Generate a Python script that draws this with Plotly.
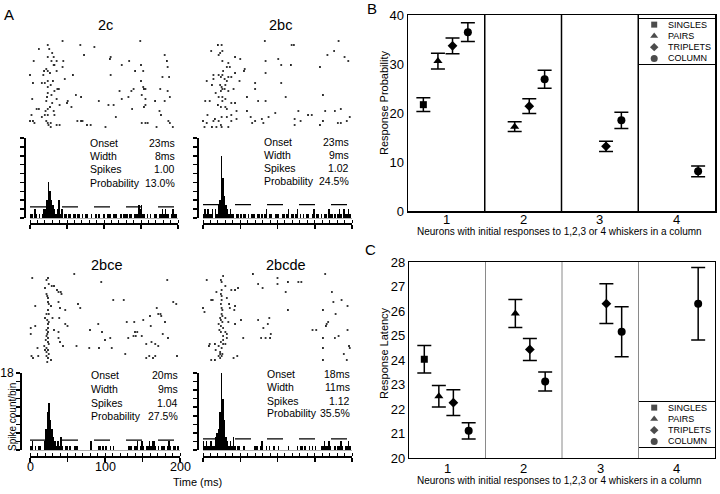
import plotly.graph_objects as go

W, H = 720, 494
FONT = "Liberation Sans, Arial, Helvetica, sans-serif"


def px(x):
    return x / W


def py(y):
    return 1 - y / H


# ---------------- DATA ----------------
PANEL_NAMES = ["2c", "2bc", "2bce", "2bcde"]
STAT_LABELS = ["Onset", "Width", "Spikes", "Probability"]
STATS_2C = ["23ms", "8ms", "1.00", "13.0%"]
STATS_2BC = ["23ms", "9ms", "1.02", "24.5%"]
STATS_2BCE = ["20ms", "9ms", "1.04", "27.5%"]
STATS_2BCDE = ["18ms", "11ms", "1.12", "35.5%"]

TIME_RANGE = [0, 200]
TIME_TICKS = [0, 50, 100, 150, 200]
TIME_LABELS = [0, 100, 200]
COUNT_TICKS = [0, 2, 4, 6, 8, 10, 12, 14, 16, 18]
BIN_MS = 2

# spike counts per 2 ms bin, 0-200 ms
HIST_2C = [1, 1, 0, 2, 1, 0, 1, 0, 1, 2,
           2, 4, 8, 6, 4, 3, 2, 1, 2, 4,
           1, 2, 0, 1, 1, 0, 1, 1, 0, 1,
           1, 0, 1, 1, 0, 1, 0, 1, 1, 0,
           0, 1, 0, 0, 1, 0, 1, 0, 0, 1,
           1, 0, 1, 1, 1, 0, 1, 1, 1, 0,
           0, 1, 0, 1, 1, 1, 0, 1, 1, 0,
           1, 1, 1, 3, 2, 3, 1, 1, 0, 1,
           0, 1, 0, 0, 1, 1, 0, 1, 1, 2,
           1, 2, 1, 1, 0, 1, 2, 1, 1, 0]
HIST_2BC = [1, 2, 1, 2, 1, 1, 2, 0, 2, 1,
            3, 4, 14, 9, 5, 3, 2, 1, 2, 1,
            1, 0, 1, 1, 0, 1, 0, 1, 1, 0,
            1, 0, 1, 1, 1, 0, 1, 1, 0, 1,
            0, 1, 2, 0, 1, 1, 0, 0, 1, 1,
            1, 0, 0, 1, 1, 0, 1, 2, 0, 1,
            1, 0, 1, 2, 0, 1, 0, 1, 0, 1,
            1, 0, 0, 1, 2, 0, 1, 1, 0, 1,
            0, 1, 1, 0, 2, 1, 1, 0, 1, 0,
            1, 2, 1, 0, 2, 1, 1, 2, 1, 0]
HIST_2BCE = [1, 2, 0, 1, 0, 1, 1, 0, 0, 2,
             5, 9, 11, 7, 5, 3, 2, 1, 2, 1,
             3, 1, 0, 1, 1, 0, 1, 0, 0, 1,
             1, 1, 0, 0, 0, 0, 0, 0, 0, 0,
             2, 0, 0, 0, 0, 1, 1, 0, 1, 0,
             1, 0, 0, 1, 0, 1, 0, 0, 0, 0,
             0, 0, 0, 0, 0, 1, 1, 1, 0, 1,
             1, 2, 0, 1, 2, 1, 0, 1, 1, 2,
             1, 2, 2, 1, 0, 1, 0, 1, 1, 1,
             0, 1, 2, 1, 0, 1, 1, 0, 1, 0]
HIST_2BCDE = [2, 1, 2, 1, 1, 2, 1, 1, 3, 4,
              5, 9, 18, 12, 7, 3, 2, 1, 2, 1,
              3, 1, 0, 1, 1, 0, 0, 1, 0, 0,
              0, 0, 0, 0, 1, 1, 1, 0, 1, 2,
              0, 0, 1, 0, 1, 0, 0, 1, 0, 0,
              1, 0, 0, 0, 0, 0, 0, 1, 0, 0,
              0, 0, 0, 1, 0, 1, 1, 0, 1, 0,
              0, 1, 0, 1, 0, 1, 0, 0, 0, 1,
              1, 2, 1, 1, 2, 1, 0, 0, 1, 0,
              1, 1, 2, 1, 0, 1, 1, 2, 1, 0]
THRESHOLDS = [2.5, 3.0, 2.3, 2.6]

# raster spikes: (time ms, trial)
RASTER_2C = [(44,3),(24,5),(12,7),(26,7),(68,5),(87,6),(149,3),(30,9),(73,10),(182,10),(5,13),(24,11),(32,11),(29,13),(36,13),(45,13),(109,11),(108,12),(134,13),(185,13),(150,15),(33,15),(32,15),(124,15),(186,16),(22,17),(24,18),(44,16),(19,18),(36,18),(142,18),(153,18),(0,20),(27,19),(18,20),(58,20),(47,22),(109,20),(179,21),(188,21),(4,24),(16,24),(20,24),(24,23),(31,23),(150,23),(28,25),(24,26),(37,27),(39,27),(33,28),(153,26),(154,27),(156,27),(176,27),(186,28),(121,28),(137,28),(140,27),(24,29),(29,30),(62,30),(69,31),(133,31),(124,32),(151,30),(189,31),(3,32),(23,31),(36,32),(51,33),(93,33),(22,33),(30,34),(50,34),(156,32),(169,33),(182,33),(27,36),(40,35),(56,36),(106,35),(113,35),(156,35),(154,36),(9,37),(12,37),(24,37),(21,38),(32,38),(138,37),(175,38),(2,40),(16,41),(20,40),(24,40),(33,40),(177,40),(116,41),(0,43),(4,43),(6,44),(22,43),(24,44),(25,45),(28,44),(64,43),(69,43),(71,43),(82,45),(77,45),(36,45),(40,45),(151,44),(156,44),(159,44),(187,43),(189,44),(102,46),(28,46),(171,46),(193,46)]
RASTER_2BC = [(20,5),(25,5),(83,3),(119,5),(122,5),(182,3),(11,8),(23,9),(26,8),(21,10),(176,8),(167,10),(190,11),(26,13),(43,11),(50,12),(101,12),(84,13),(34,14),(105,15),(118,15),(195,13),(32,16),(36,16),(56,17),(55,18),(157,16),(27,18),(14,20),(21,20),(43,19),(84,19),(26,20),(24,21),(34,21),(38,21),(5,23),(14,22),(29,22),(32,23),(49,23),(70,24),(12,25),(23,25),(25,26),(30,25),(105,24),(26,27),(29,27),(41,27),(70,27),(24,28),(17,29),(34,28),(161,30),(21,31),(26,31),(30,32),(59,31),(74,33),(84,33),(111,31),(3,33),(9,33),(26,33),(38,34),(43,34),(20,35),(24,36),(30,36),(32,37),(45,38),(59,38),(97,39),(88,41),(128,38),(141,40),(146,40),(164,38),(177,38),(185,37),(38,40),(6,40),(16,42),(25,41),(32,41),(45,42),(64,41),(79,42),(0,43),(5,44),(14,43),(21,43),(38,43),(70,43),(123,42),(131,43),(161,43),(193,43),(12,46),(18,46),(24,45),(25,46),(34,46),(66,44),(81,44),(123,45),(157,45),(181,44),(185,44),(197,41),(2,46)]
RASTER_2BCE = [(59,3),(3,5),(24,5),(95,7),(183,6),(22,6),(25,8),(29,9),(32,9),(36,11),(38,12),(41,12),(20,10),(22,13),(42,13),(24,15),(111,16),(125,16),(191,17),(195,18),(7,19),(25,18),(28,19),(38,17),(64,18),(67,20),(47,21),(24,21),(22,23),(25,23),(40,20),(169,20),(174,23),(160,24),(171,23),(175,24),(30,25),(20,25),(25,27),(39,25),(129,27),(139,27),(151,26),(161,29),(180,27),(91,28),(1,30),(7,29),(24,30),(47,28),(50,29),(32,31),(80,31),(96,32),(1,33),(24,32),(38,32),(140,32),(143,32),(131,35),(138,34),(141,34),(149,34),(177,33),(184,35),(22,34),(21,36),(24,37),(38,35),(40,37),(100,36),(107,35),(25,38),(19,39),(22,40),(44,39),(62,39),(162,37),(155,38),(167,38),(171,39),(10,40),(20,41),(24,41),(79,40),(92,40),(109,40),(127,43),(2,44),(11,44),(22,44),(24,45),(28,46),(4,45),(155,45),(159,44),(164,45),(167,44),(196,44),(23,14),(24,17),(23,26),(24,28),(22,31),(23,33),(24,35),(22,42),(25,43),(23,47)]
RASTER_2BCDE = [(27,4),(67,3),(100,5),(164,3),(5,6),(24,6),(25,7),(74,8),(80,10),(100,8),(114,7),(128,7),(132,7),(30,9),(18,12),(25,11),(38,11),(43,11),(47,10),(111,12),(173,12),(13,16),(11,16),(25,16),(32,15),(35,18),(175,17),(186,16),(0,20),(2,22),(24,18),(25,20),(36,20),(43,19),(42,21),(194,19),(114,21),(161,21),(178,23),(26,24),(23,25),(30,25),(34,27),(51,26),(74,26),(89,25),(168,27),(166,28),(21,28),(24,29),(27,30),(43,28),(87,28),(81,30),(147,31),(152,31),(165,29),(194,31),(24,32),(30,32),(32,33),(54,35),(78,35),(84,35),(90,35),(91,33),(161,35),(177,35),(182,34),(9,38),(16,38),(27,36),(32,35),(8,39),(21,39),(25,40),(30,38),(161,40),(196,39),(197,40),(17,41),(23,43),(26,43),(21,44),(41,45),(46,44),(11,46),(16,46),(23,45),(161,46),(193,46),(189,43),(24,13),(25,23),(26,27),(27,34),(24,37),(23,42),(25,14),(26,21),(24,26),(22,31),(27,38),(25,44)]
TRIAL_RANGE = [50, 0]

GROUPS = [1, 2, 3, 4]
GROUP_LABELS = ["1", "2", "3", "4"]
SERIES = ["SINGLES", "PAIRS", "TRIPLETS", "COLUMN"]

# Panel B: response probability (mean, sem) by group
PROB_SINGLES_X = [1]
PROB_SINGLES = [21.7]
PROB_SINGLES_ERR = [1.4]
PROB_PAIRS_X = [1, 2]
PROB_PAIRS = [30.6, 17.2]
PROB_PAIRS_ERR = [1.6, 1.0]
PROB_TRIPLETS_X = [1, 2, 3]
PROB_TRIPLETS = [33.7, 21.4, 13.2]
PROB_TRIPLETS_ERR = [1.6, 1.5, 1.05]
PROB_COLUMN_X = [1, 2, 3, 4]
PROB_COLUMN = [36.5, 26.9, 18.5, 8.1]
PROB_COLUMN_ERR = [1.9, 1.85, 1.65, 1.1]

# Panel C: response latency (mean, sem) by group
LAT_SINGLES_X = [1]
LAT_SINGLES = [24.03]
LAT_SINGLES_ERR = [0.56]
LAT_PAIRS_X = [1, 2]
LAT_PAIRS = [22.52, 25.9]
LAT_PAIRS_ERR = [0.44, 0.57]
LAT_TRIPLETS_X = [1, 2, 3]
LAT_TRIPLETS = [22.26, 24.43, 26.3]
LAT_TRIPLETS_ERR = [0.53, 0.45, 0.81]
LAT_COLUMN_X = [1, 2, 3, 4]
LAT_COLUMN = [21.11, 23.12, 25.15, 26.3]
LAT_COLUMN_ERR = [0.33, 0.39, 1.02, 1.48]

PROB_TICKS = [0, 10, 20, 30, 40]
LAT_TICKS = [20, 21, 22, 23, 24, 25, 26, 27, 28]

# ---------------- STYLE / LAYOUT ----------------
OFFSETS = {"SINGLES": -0.3, "PAIRS": -0.11, "TRIPLETS": 0.08, "COLUMN": 0.28}
SYMBOLS = {"SINGLES": "square", "PAIRS": "triangle-up", "TRIPLETS": "diamond", "COLUMN": "circle"}
SIZES = {"SINGLES": 7, "PAIRS": 8, "TRIPLETS": 7.5, "COLUMN": 8}

A_GEOM = [
    dict(x0=30, x1=178, r0=35, hy0=138, hy1=218, yax=25, xax=224, title=(105, 25), lab=88, val=177, rows=[143, 156, 169, 183]),
    dict(x0=203, x1=352, r0=35, hy0=138, hy1=218, yax=198, xax=224, title=(280, 25), lab=262, val=351, rows=[142, 155, 168, 181]),
    dict(x0=30, x1=180, r0=268, hy0=373, hy1=450, yax=21, xax=457, title=(106, 265), lab=89, val=180, rows=[375, 389, 403, 416]),
    dict(x0=203, x1=352, r0=268, hy0=373, hy1=450, yax=198, xax=457, title=(286, 265), lab=265, val=352, rows=[374, 387, 401, 413]),
]

HISTS = [HIST_2C, HIST_2BC, HIST_2BCE, HIST_2BCDE]
RASTERS = [RASTER_2C, RASTER_2BC, RASTER_2BCE, RASTER_2BCDE]
STATS = [STATS_2C, STATS_2BC, STATS_2BCE, STATS_2BCDE]

fig = go.Figure()
layout = dict(
    template="none",
    width=W, height=H, margin=dict(l=0, r=0, t=0, b=0, pad=0, autoexpand=False),
    paper_bgcolor="white", plot_bgcolor="rgba(0,0,0,0)",
    showlegend=False, font=dict(family=FONT, color="black"),
)
annotations = []
shapes = []


def ann(text, x, y, size, xanchor="center", yanchor="middle", angle=0):
    annotations.append(dict(text=text, x=px(x), y=py(y), xref="paper", yref="paper",
                            showarrow=False, xanchor=xanchor, yanchor=yanchor,
                            textangle=angle, font=dict(size=size, family=FONT, color="black")))


# ---------- Panel A ----------
for i, g in enumerate(A_GEOM):
    ra = 2 * i + 1
    ha = 2 * i + 2
    raster = RASTERS[i]
    fig.add_trace(go.Scatter(
        x=[t for t, _ in raster], y=[tr for _, tr in raster], mode="markers",
        marker=dict(symbol="square", size=1.8, color="#222", line=dict(width=0)),
        xaxis=f"x{ra}", yaxis=f"y{ra}", cliponaxis=False, hoverinfo="skip"))
    layout[f"xaxis{ra}"] = dict(domain=[px(g["x0"]), px(g["x1"])], range=TIME_RANGE,
                                visible=False, anchor=f"y{ra}", automargin=False)
    layout[f"yaxis{ra}"] = dict(domain=[py(g["r0"] + 100), py(g["r0"])], range=TRIAL_RANGE,
                                visible=False, anchor=f"x{ra}", automargin=False)

    counts = HISTS[i]
    centers = [BIN_MS * (k + 0.5) for k in range(len(counts))]
    fig.add_trace(go.Scatter(
        x=TIME_RANGE, y=[THRESHOLDS[i]] * 2, mode="lines",
        line=dict(color="black", width=1.3, dash="16px,16px"),
        xaxis=f"x{ha}", yaxis=f"y{ha}", hoverinfo="skip"))
    fig.add_trace(go.Bar(
        x=centers, y=counts, width=BIN_MS,
        marker=dict(color="black", line=dict(width=0)),
        xaxis=f"x{ha}", yaxis=f"y{ha}", hoverinfo="skip"))
    bottom_left = (i == 2)
    layout[f"xaxis{ha}"] = dict(
        domain=[px(g["x0"]), px(g["x1"])], range=TIME_RANGE, anchor="free",
        position=py(g["xax"]), showline=True, linecolor="black", linewidth=2,
        tickvals=TIME_TICKS, showticklabels=False,
        ticks="outside", ticklen=4, tickwidth=1.5, tickcolor="black",
        minor=dict(dtick=10, ticks="inside", ticklen=3, tickwidth=1, tickcolor="black", showgrid=False),
        showgrid=False, zeroline=False, automargin=False)
    layout[f"yaxis{ha}"] = dict(
        domain=[py(g["hy1"]), py(g["hy0"])], range=[0, 18], anchor="free",
        position=px(g["yax"]), showline=True, linecolor="black", linewidth=2,
        tickvals=COUNT_TICKS,
        ticktext=[""] * (len(COUNT_TICKS) - 1) + (["18"] if bottom_left else [""]),
        ticks="outside", ticklen=4, tickwidth=1.5, tickcolor="black",
        showgrid=False, zeroline=True, zerolinecolor="#b0b0b0", zerolinewidth=1,
        automargin=False, tickfont=dict(size=12, family=FONT))
    if bottom_left:
        for t in TIME_LABELS:
            annotations.append(dict(text=str(t), x=t, y=py(g["xax"] + 10), xref=f"x{ha}",
                                    yref="paper", showarrow=False, xanchor="center",
                                    yanchor="middle", font=dict(size=12.5, family=FONT, color="black")))

    ann(PANEL_NAMES[i], g["title"][0], g["title"][1], 14.5)
    for lbl, val, row in zip(STAT_LABELS, STATS[i], g["rows"]):
        ann(lbl, g["lab"], row, 10.5, xanchor="left")
        ann(val, g["val"], row, 10.5, xanchor="right")

ann("A", 9, 14, 15)
ann("Spike count/bin", 12, 417, 10, angle=-90)
ann("Time (ms)", 197, 482, 11)

# ---------- Panels B and C ----------
PANELS = [
    dict(ax=9, leg=11, x0=408, x1=715, y0=15, y1=211, rng=[0, 40], ticks=PROB_TICKS,
         sepcolor="black", sepw=1.5, linew=1.5,
         data={"SINGLES": (PROB_SINGLES_X, PROB_SINGLES, PROB_SINGLES_ERR),
               "PAIRS": (PROB_PAIRS_X, PROB_PAIRS, PROB_PAIRS_ERR),
               "TRIPLETS": (PROB_TRIPLETS_X, PROB_TRIPLETS, PROB_TRIPLETS_ERR),
               "COLUMN": (PROB_COLUMN_X, PROB_COLUMN, PROB_COLUMN_ERR)},
         legbox=(639, 715, 19, 64), label="B", labpos=(372, 8),
         ytitle="Response Probability", ytpos=(384, 103), xtpos=(559, 231), xlab=219),
    dict(ax=10, leg=12, x0=409, x1=715, y0=262, y1=458, rng=[20, 28], ticks=LAT_TICKS,
         sepcolor="#8a8a8a", sepw=1, linew=1.2,
         data={"SINGLES": (LAT_SINGLES_X, LAT_SINGLES, LAT_SINGLES_ERR),
               "PAIRS": (LAT_PAIRS_X, LAT_PAIRS, LAT_PAIRS_ERR),
               "TRIPLETS": (LAT_TRIPLETS_X, LAT_TRIPLETS, LAT_TRIPLETS_ERR),
               "COLUMN": (LAT_COLUMN_X, LAT_COLUMN, LAT_COLUMN_ERR)},
         legbox=(639, 715, 402, 447), label="C", labpos=(371, 249),
         ytitle="Response Latency", ytpos=(384, 353), xtpos=(559, 480), xlab=468),
]

for p in PANELS:
    a = p["ax"]
    for s in SERIES:
        xs, ys, es = p["data"][s]
        fig.add_trace(go.Scatter(
            x=[x + OFFSETS[s] for x in xs], y=ys, mode="markers",
            marker=dict(symbol=SYMBOLS[s], size=SIZES[s], color="black", line=dict(width=0)),
            error_y=dict(type="data", array=es, visible=True, color="black", thickness=1.5, width=7),
            xaxis=f"x{a}", yaxis=f"y{a}", hoverinfo="skip"))
    layout[f"xaxis{a}"] = dict(
        domain=[px(p["x0"]), px(p["x1"])], range=[0.5, 4.5], anchor=f"y{a}",
        tickvals=GROUPS, showticklabels=False, ticks="", showgrid=False, zeroline=False,
        showline=True, mirror=True, linecolor="black", linewidth=p["linew"], automargin=False)
    layout[f"yaxis{a}"] = dict(
        domain=[py(p["y1"]), py(p["y0"])], range=p["rng"], anchor=f"x{a}",
        tickvals=p["ticks"], ticks="", ticklen=0, showgrid=False, zeroline=False,
        showline=True, mirror=True, linecolor="black", linewidth=p["linew"], automargin=False,
        tickfont=dict(size=13, family=FONT))
    for gv, gl in zip(GROUPS, GROUP_LABELS):
        annotations.append(dict(text=gl, x=gv, y=py(p["xlab"]), xref=f"x{a}", yref="paper",
                                showarrow=False, xanchor="center", yanchor="middle",
                                font=dict(size=13, family=FONT, color="black")))
    for gsep in GROUPS[:-1]:
        shapes.append(dict(type="line", xref=f"x{a}", yref="paper",
                           x0=gsep + 0.5, x1=gsep + 0.5, y0=py(p["y1"]), y1=py(p["y0"]),
                           line=dict(color=p["sepcolor"], width=p["sepw"])))
    # legend box
    l = p["leg"]
    lx0, lx1, ly0, ly1 = p["legbox"]
    n = len(SERIES)
    fig.add_trace(go.Scatter(
        x=[0.2] * n, y=[n - k - 0.5 for k in range(n)], mode="markers",
        marker=dict(symbol=[SYMBOLS[s] for s in SERIES], size=[SIZES[s] - 1 for s in SERIES],
                    color="black", line=dict(width=0)),
        xaxis=f"x{l}", yaxis=f"y{l}", hoverinfo="skip", cliponaxis=False))
    layout[f"xaxis{l}"] = dict(domain=[px(lx0), px(lx1)], range=[0, 1], anchor=f"y{l}",
                               showticklabels=False, ticks="", showgrid=False, zeroline=False,
                               showline=True, mirror=True, linecolor="black", linewidth=1,
                               automargin=False)
    layout[f"yaxis{l}"] = dict(domain=[py(ly1), py(ly0)], range=[0, n], anchor=f"x{l}",
                               showticklabels=False, ticks="", showgrid=False, zeroline=False,
                               showline=True, mirror=True, linecolor="black", linewidth=1,
                               automargin=False)
    for k, s in enumerate(SERIES):
        annotations.append(dict(text=s, x=0.36, y=n - k - 0.5, xref=f"x{l}", yref=f"y{l}",
                                showarrow=False, xanchor="left", yanchor="middle",
                                font=dict(size=9, family=FONT, color="black")))
    ann(p["label"], p["labpos"][0], p["labpos"][1], 15)
    ann(p["ytitle"], p["ytpos"][0], p["ytpos"][1], 11, angle=-90)
    ann("Neurons with initial responses to 1,2,3 or 4 whiskers in a column",
        p["xtpos"][0], p["xtpos"][1], 10)

layout["annotations"] = annotations
layout["shapes"] = shapes
layout["bargap"] = 0
fig.update_layout(**layout)
fig.write_html("out.html",
               config={"displayModeBar": False, "staticPlot": True},
               post_script="document.body.style.margin='0';document.body.style.padding='0';")
